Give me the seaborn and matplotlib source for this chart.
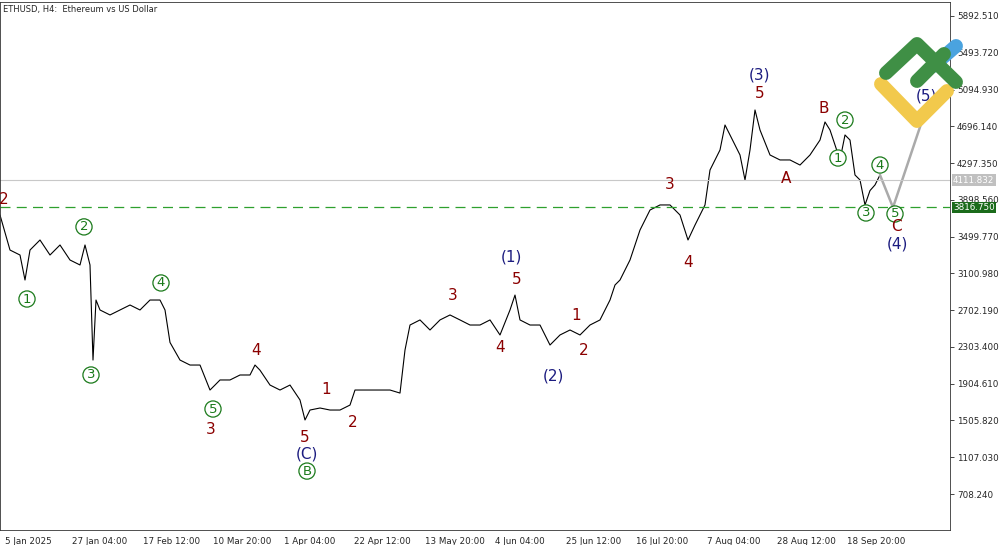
import matplotlib
matplotlib.use("Agg")
import matplotlib.pyplot as plt
import seaborn as sns
import pandas as pd
from matplotlib.lines import Line2D

sns.set_style("white")
plt.rcParams['font.family'] = ['DejaVu Sans']

# time axis position (chart units) and price
t = [0,10,20,25,30,40,50,60,70,80,85,90,93,96,100,110,120,130,140,150,160,165,170,180,190,200,210,215,220,230,240,250,255,260,270,280,290,300,305,310,320,330,340,350,355,370,390,400,405,410,420,430,440,450,460,470,480,490,500,510,515,520,530,540,550,560,570,580,590,600,610,615,620,630,640,650,660,670,680,688,695,705,710,720,725,730,740,745,750,755,760,770,780,790,800,810,820,825,830,840,845,850,855,860,865,870,875,880]
price = [3734,3354,3300,3029,3354,3463,3300,3409,3246,3192,3409,3192,2161,2812,2704,2650,2704,2758,2704,2812,2812,2704,2352,2161,2107,2107,1836,1890,1945,1945,1999,1999,2107,2051,1890,1836,1890,1728,1511,1619,1641,1619,1619,1673,1836,1836,1836,1803,2270,2541,2596,2487,2596,2650,2596,2541,2541,2596,2433,2704,2866,2596,2541,2541,2324,2433,2487,2433,2541,2596,2812,2975,3029,3246,3571,3788,3843,3843,3734,3463,3625,3843,4222,4439,4710,4602,4385,4114,4439,4873,4656,4385,4331,4331,4276,4385,4547,4743,4656,4331,4602,4547,4168,4114,3843,3999,4060,4168]
proj_t = [880, 893, 925]
proj_p = [4168, 3816, 4850]
tick_pos = [5,72,143,213,284,354,425,495,566,636,707,777,847]
tick_lab = ["5 Jan 2025","27 Jan 04:00","17 Feb 12:00","10 Mar 20:00","1 Apr 04:00","22 Apr 12:00","13 May 20:00","4 Jun 04:00","25 Jun 12:00","16 Jul 20:00","7 Aug 04:00","28 Aug 12:00","18 Sep 20:00"]
yticks = [5892.510,5493.720,5094.930,4696.140,4297.350,3898.560,3499.770,3100.980,2702.190,2303.400,1904.610,1505.820,1107.030,708.240]
current, level = 4111.832, 3816.750

RED, NAVY, GRN = "#8B0000", "#1c1c80", "#1a7a1a"
labels = [  # (t, price, text, color, circled)
    (4,3897,"2",RED,False),(27,2823,"1",GRN,True),(84,3605,"2",GRN,True),(91,1999,"3",GRN,True),
    (161,2997,"4",GRN,True),(213,1630,"5",GRN,True),(211,1413,"3",RED,False),(256,2270,"4",RED,False),
    (305,1326,"5",RED,False),(307,1142,"(C)",NAVY,False),(307,957,"B",GRN,True),(326,1847,"1",RED,False),
    (353,1489,"2",RED,False),(453,2866,"3",RED,False),(500,2292,"4",RED,False),(517,3040,"5",RED,False),
    (511,3279,"(1)",NAVY,False),(576,2639,"1",RED,False),(584,2270,"2",RED,False),(553,1988,"(2)",NAVY,False),
    (670,4060,"3",RED,False),(688,3224,"4",RED,False),(760,5253,"(3)",NAVY,False),(760,5057,"5",RED,False),
    (786,4125,"A",RED,False),(824,4894,"B",RED,False),(845,4764,"2",GRN,True),(838,4352,"1",GRN,True),
    (866,3756,"3",GRN,True),(880,4276,"4",GRN,True),(895,3745,"5",GRN,True),(896,3604,"C",RED,False),
    (897,3420,"(4)",NAVY,False),(926,5024,"(5)",NAVY,False),
]

fig = plt.figure(figsize=(10, 5.45), dpi=100)
ax = fig.add_axes([0.0, 1-530/545, 0.95, 528/545])
df = pd.DataFrame({"t": t, "p": price})
sns.lineplot(data=df, x="t", y="p", ax=ax, color="black", lw=0.8)
ax.plot(proj_t, proj_p, color="#aaaaaa", lw=1.8)
ax.axhline(current, color="#c8c8c8", lw=0.8)
ax.axhline(level, color="#2ea02e", lw=0.9, ls=(0, (8, 5)))
ax.set_xlim(0, 950)
ax.set_ylim(318, 6044)
ax.yaxis.tick_right()
ax.set_yticks(yticks)
ax.set_yticklabels([f"{v:.3f}" for v in yticks], fontsize=6.3)
ax.set_xticks(tick_pos)
ax.set_xticklabels(tick_lab, fontsize=6.3, ha="left")
ax.tick_params(length=3, width=0.6, pad=2)
ax.set_xlabel(""); ax.set_ylabel("")
for s in ax.spines.values():
    s.set_linewidth(0.6); s.set_color("#333333")
ax.text(0.003, 0.995, "ETHUSD, H4:  Ethereum vs US Dollar", transform=ax.transAxes,
        fontsize=6, va="top", ha="left")
for tt, pp, txt, col, circ in labels:
    if circ:
        ax.text(tt, pp, txt, color=col, fontsize=9.5, ha="center", va="center",
                bbox=dict(boxstyle="circle,pad=0.12", fc="white", ec=col, lw=0.9))
    else:
        ax.text(tt, pp, txt, color=col, fontsize=11, ha="center", va="center")
ax.text(1.003, current, "4111.832", transform=ax.get_yaxis_transform(), fontsize=6.3,
        color="white", va="center", bbox=dict(boxstyle="square,pad=0.15", fc="#c0c0c0", ec="none"))
ax.text(1.003, level, "3816.750", transform=ax.get_yaxis_transform(), fontsize=6.3,
        color="white", va="center", bbox=dict(boxstyle="square,pad=0.15", fc="#1b6b1b", ec="none"))

def fl(pts, col):
    xs = [p[0]/1000 for p in pts]; ys = [1-p[1]/545 for p in pts]
    fig.add_artist(Line2D(xs, ys, transform=fig.transFigure, color=col, lw=10,
                          solid_capstyle="round", solid_joinstyle="round"))
fl([(881,84),(917,121),(947,91)], "#f2c94c")
fl([(933,66),(956,46)], "#4aa3df")
fl([(886,73),(917,44),(956,82)], "#3f8f45")
fl([(917,81),(944,54)], "#3f8f45")
fig.savefig("out.png", dpi=100)
